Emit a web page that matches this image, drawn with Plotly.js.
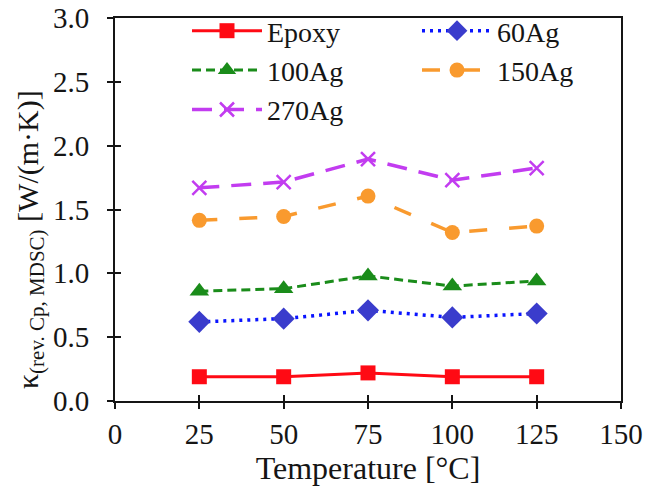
<!DOCTYPE html>
<html>
<head>
<meta charset="utf-8">
<script src="https://cdn.plot.ly/plotly-3.0.1.min.js"></script>
<style>html,body{margin:0;padding:0;background:#fff}#chart{width:647px;height:498px}</style>
</head>
<body>
<div id="chart"></div>
<script>
const temperature = [25, 50, 75, 100, 125];
const epoxy = [0.19, 0.19, 0.22, 0.19, 0.19];
const ag60 = [0.62, 0.645, 0.71, 0.655, 0.685];
const ag100 = [0.86, 0.88, 0.98, 0.90, 0.94];
const ag150 = [1.415, 1.445, 1.605, 1.32, 1.37];
const ag270 = [1.67, 1.715, 1.895, 1.73, 1.825];
const xTicks = [0, 25, 50, 75, 100, 125, 150];
const yTicks = [0, 0.5, 1, 1.5, 2, 2.5, 3];
const yTickText = ['0.0','0.5','1.0','1.5','2.0','2.5','3.0'];
const yTitle = 'κ<sub>(rev. Cp, MDSC)</sub> [W/(m·K)]';
const xTitle = 'Temperature [°C]';

const font = 'Liberation Serif, Times New Roman, serif';
const ink = '#151515';

const traces = [
  {name:'Epoxy', legend:'legend', x:temperature, y:epoxy, mode:'lines+markers',
   line:{color:'#ff0a14', width:3}, marker:{symbol:'square', size:15, color:'#ff0a14'}},
  {name:'60Ag', legend:'legend2', x:temperature, y:ag60, mode:'lines+markers',
   line:{color:'#0a14ff', width:3.5, dash:'3px,5px'}, marker:{symbol:'diamond', size:17, color:'#3a3ccc'}},
  {name:'100Ag', legend:'legend', x:temperature, y:ag100, mode:'lines+markers',
   line:{color:'#1a8c1a', width:3, dash:'9px,5px'}, marker:{symbol:'triangle-up', size:17, color:'#1a8c1a'}},
  {name:'150Ag', legend:'legend2', x:temperature, y:ag150, mode:'lines+markers',
   line:{color:'#f99a2e', width:3.5, dash:'18px,22px'}, marker:{symbol:'circle', size:15, color:'#f99a2e'}},
  {name:'270Ag', legend:'legend', x:temperature, y:ag270, mode:'lines+markers',
   line:{color:'#c23cf0', width:3.5, dash:'20px,12px'}, marker:{symbol:'x-thin', size:14, line:{color:'#c23cf0', width:2.5}, color:'#c23cf0'}}
];
// overlay axes giving the inside half of the crossing ticks
traces.push({x:[0], y:[0], xaxis:'x2', yaxis:'y2', mode:'markers', marker:{opacity:0}, showlegend:false, hoverinfo:'skip'});

const legendBase = {orientation:'v', y:1 + 12/383, xanchor:'left', yanchor:'top', itemwidth:70,
  font:{family:font, size:28, color:ink}, bgcolor:'rgba(0,0,0,0)', tracegroupgap:0};

const layout = {
  width:647, height:498,
  margin:{l:115, r:26, t:18, b:97, autoexpand:false},
  paper_bgcolor:'#fff', plot_bgcolor:'#fff',
  font:{family:font, size:20, color:ink},
  showlegend:true,
  legend:Object.assign({}, legendBase, {x:(187-115)/506}),
  legend2:Object.assign({}, legendBase, {x:(417-115)/506}),
  xaxis:{range:[0,150], tickvals:xTicks, ticktext:xTicks.map(String), ticks:'outside', ticklen:6, tickwidth:2,
    tickcolor:ink, showline:true, linecolor:ink, linewidth:2, mirror:true, showgrid:false, zeroline:false,
    tickangle:0, tickfont:{family:font, size:29, color:ink},
    title:{text:xTitle, font:{family:font, size:32, color:ink}, standoff:6}},
  yaxis:{range:[0,3], tickvals:yTicks, ticktext:yTickText, ticks:'outside', ticklen:6, tickwidth:2,
    tickcolor:ink, showline:true, linecolor:ink, linewidth:2, mirror:true, showgrid:false, zeroline:false,
    ticklabelstandoff:12, tickfont:{family:font, size:29, color:ink}},
  xaxis2:{overlaying:'x', range:[0,150], tickvals:xTicks, ticks:'inside', ticklen:6, tickwidth:2, tickcolor:ink,
    showticklabels:false, showgrid:false, zeroline:false, showline:false, side:'bottom'},
  yaxis2:{overlaying:'y', range:[0,3], tickvals:yTicks, ticks:'inside', ticklen:6, tickwidth:2, tickcolor:ink,
    showticklabels:false, showgrid:false, zeroline:false, showline:false, side:'left'},
  annotations:[{text:yTitle, textangle:-90, xref:'paper', yref:'paper', x:(30-115)/506, y:(401-240)/383,
    xanchor:'center', yanchor:'middle', showarrow:false, font:{family:font, size:30, color:ink}}]
};
Plotly.newPlot('chart', traces, layout, {staticPlot:true, displayModeBar:false});
</script>
</body>
</html>
